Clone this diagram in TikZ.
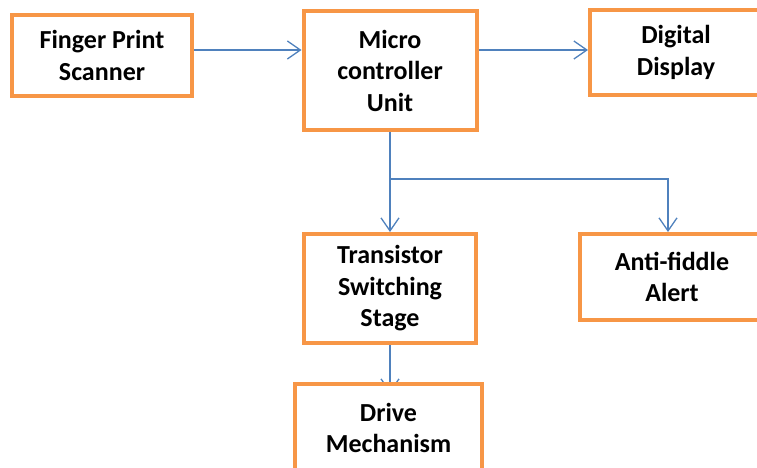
\documentclass[tikz,border=0pt]{standalone}
\usepackage{fontspec}
\setmainfont{Carlito}
\usetikzlibrary{arrows.meta,backgrounds}

\definecolor{boxorange}{HTML}{F79646}
\definecolor{flowblue}{HTML}{4F81BD}

\begin{document}
\begin{tikzpicture}
[x=1pt, y=-1pt,
block/.style={rectangle, draw=boxorange, line width=4pt, fill=white, align=center,
  font=\fontsize{26}{31.5}\selectfont\bfseries, inner sep=0pt},
flow/.style={draw=flowblue, line width=1.3pt, -{Straight Barb[length=13pt,width=18pt]}}]

\useasboundingbox (0,0) rectangle (757,468);
\clip (0,0) rectangle (757,468);

\node[block, minimum width=180, minimum height=81] (scanner) at (102,55.5) {Finger Print\\Scanner};
\node[block, minimum width=173, minimum height=119] (mcu) at (390,70.5) {Micro\\controller\\Unit};
\node[block, minimum width=172, minimum height=85] (display) at (676,52.5) {Digital\\Display};
\node[block, minimum width=172, minimum height=109] (switch) at (390,288.5) {Transistor\\Switching\\Stage};
\node[block, minimum width=184, minimum height=86] (alert) at (672,277) {Anti-fiddle\\Alert};
\node[block, minimum width=187, minimum height=88] (drive) at (388.5,428) {Drive\\Mechanism};

\coordinate (branch) at (mcu.south |- 0,179);

\begin{scope}[on background layer]
\draw[flow] (scanner.east |- 0,50) -- (mcu.west |- 0,50);
\draw[flow] (mcu.east |- 0,50) -- (display.west |- 0,50);
\draw[flow] (mcu.south) -- (switch.north);
\draw[flow] (branch) -| ([xshift=-4]alert.north);
\draw[flow, shorten >=-11pt] (switch.south) -- (switch.south |- drive.north);
\end{scope}
\end{tikzpicture}
\end{document}
